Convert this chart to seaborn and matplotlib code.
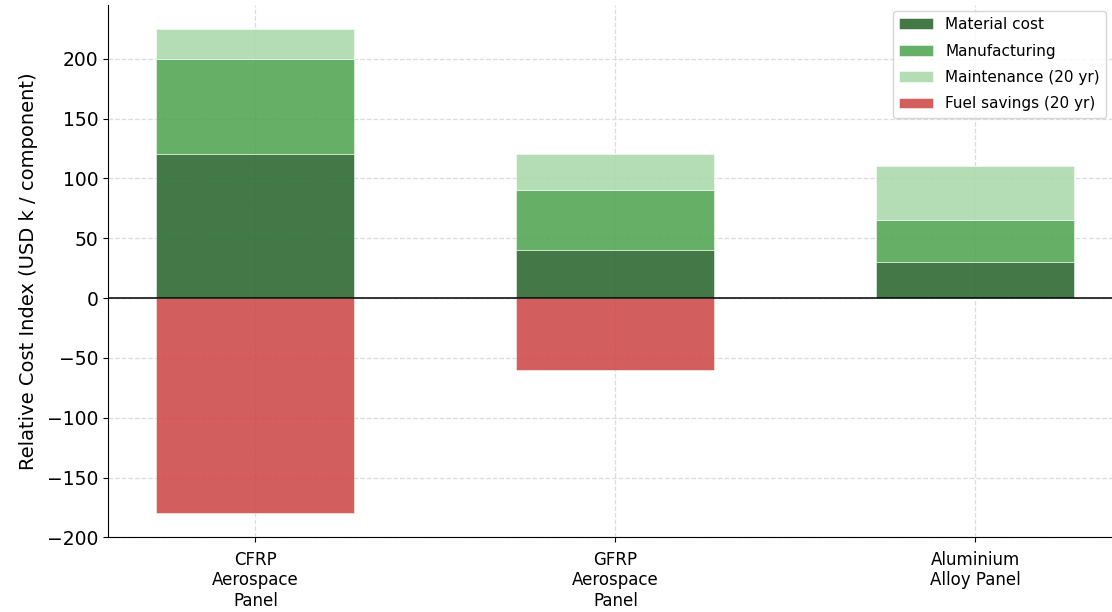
import pandas as pd
import numpy as np
import matplotlib
matplotlib.use('Agg')
import matplotlib.pyplot as plt
import seaborn as sns

categories = ['CFRP\nAerospace\nPanel', 'GFRP\nAerospace\nPanel', 'Aluminium\nAlloy Panel']
material = [120, 40, 30]
manufacturing = [80, 50, 35]
maintenance = [25, 30, 45]
fuel_savings = [-180, -60, 0]

sns.set_style('ticks')
plt.rcParams['font.family'] = ['DejaVu Sans']
plt.rcParams['text.color'] = 'black'
plt.rcParams['axes.labelcolor'] = 'black'
plt.rcParams['xtick.color'] = 'black'
plt.rcParams['ytick.color'] = 'black'
plt.rcParams['axes.edgecolor'] = 'black'

fig, ax = plt.subplots(figsize=(11.12, 6.12), dpi=100)

df = pd.DataFrame({'Component': categories, 'Material': material,
                   'Manufacturing': manufacturing, 'Maintenance': maintenance,
                   'Fuel': fuel_savings})
bottom_manu = df['Material']
bottom_maint = df['Material'] + df['Manufacturing']

w = 0.55
common = dict(width=w, alpha=0.9, saturation=1, edgecolor='white', linewidth=0.4, ax=ax, zorder=2)
sns.barplot(data=df, x='Component', y='Material', color='#2f6b33', label='Material cost', **common)
sns.barplot(data=df, x='Component', y='Manufacturing', bottom=bottom_manu, color='#55a755',
            label='Manufacturing', **common)
sns.barplot(data=df, x='Component', y='Maintenance', bottom=bottom_maint, color='#acd9ad',
            label='Maintenance (20 yr)', **common)
sns.barplot(data=df, x='Component', y='Fuel', color='#cf4c4c', label='Fuel savings (20 yr)', **common)

ax.axhline(0, color='black', linewidth=1.1, zorder=3)
ax.grid(True, linestyle='--', color='#dddddd', linewidth=0.9, zorder=0)
ax.set_axisbelow(True)
ax.set_ylim(-200, 245)
ax.set_xlim(-0.41, 2.38)
ax.set_yticks(np.arange(-200, 201, 50))
ax.set_xlabel('')
ax.set_ylabel('Relative Cost Index (USD k / component)', fontsize=14, labelpad=6)
ax.tick_params(axis='y', labelsize=13.5)
ax.tick_params(axis='x', labelsize=12, pad=6)
sns.despine(ax=ax)
ax.legend(loc='upper right', fontsize=11, frameon=True, borderaxespad=0.4,
          labelspacing=0.75, handlelength=2.2)

fig.subplots_adjust(left=0.097, right=1.0, top=0.992, bottom=0.122)
fig.savefig('out.png', dpi=100)
